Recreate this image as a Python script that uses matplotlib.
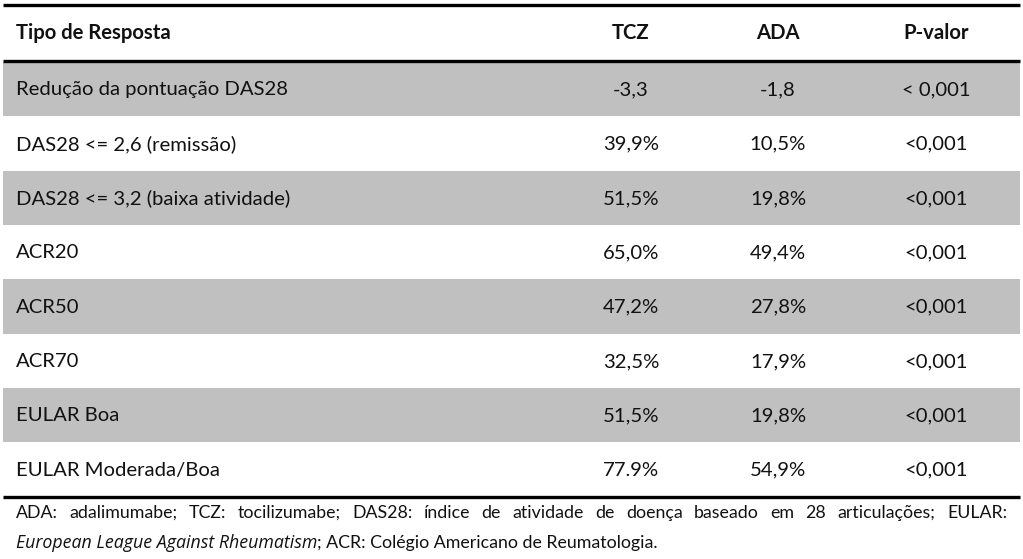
import matplotlib
matplotlib.use("Agg")
import matplotlib.pyplot as plt
from matplotlib.patches import Rectangle

headers = ["Tipo de Resposta", "TCZ", "ADA", "P-valor"]
categories = ["Redução da pontuação DAS28", "DAS28 <= 2,6 (remissão)",
              "DAS28 <= 3,2 (baixa atividade)", "ACR20", "ACR50", "ACR70",
              "EULAR Boa", "EULAR Moderada/Boa"]
tcz = ["-3,3", "39,9%", "51,5%", "65,0%", "47,2%", "32,5%", "51,5%", "77.9%"]
ada = ["-1,8", "10,5%", "19,8%", "49,4%", "27,8%", "17,9%", "19,8%", "54,9%"]
pval = ["< 0,001", "<0,001", "<0,001", "<0,001", "<0,001", "<0,001", "<0,001", "<0,001"]
footer1 = ("ADA: adalimumabe; TCZ: tocilizumabe; DAS28: índice de atividade de doença "
           "baseado em 28 articulações; EULAR:")
footer2_italic = "European League Against Rheumatism"
footer2_rest = "; ACR: Colégio Americano de Reumatologia."

W, H = 1023, 559
FONT = "Lato"
FS = 14.6

fig = plt.figure(figsize=(W / 100, H / 100), dpi=100)
ax = fig.add_axes([0, 0, 1, 1])
ax.set_xlim(0, W)
ax.set_ylim(H, 0)
ax.axis("off")

x_left, x_right = 3, 1020
col_x = [16, 631, 778, 936]
header_y = 33
row_top = 62
row_h = 54.3

# header
ax.text(col_x[0], header_y, headers[0], fontsize=FS, fontweight="bold", family=FONT,
        ha="left", va="center", color="#111111")
for cx, h in zip(col_x[1:], headers[1:]):
    ax.text(cx, header_y, h, fontsize=FS, fontweight="bold", family=FONT,
            ha="center", va="center", color="#111111")

for i, (cat, a, b, p) in enumerate(zip(categories, tcz, ada, pval)):
    y0 = row_top + i * row_h
    if i % 2 == 0:
        ax.add_patch(Rectangle((x_left, y0), x_right - x_left, row_h,
                               facecolor="#C0C0C0", edgecolor="none", zorder=0))
    yc = y0 + row_h / 2 + 0.8
    ax.text(col_x[0], yc, cat, fontsize=FS, family=FONT, ha="left", va="center", color="#111111")
    for cx, v in zip(col_x[1:], [a, b, p]):
        ax.text(cx, yc, v, fontsize=FS, family=FONT, ha="center", va="center", color="#111111")

bottom = row_top + len(categories) * row_h
for yl in [4.5, 61, bottom + 1]:
    ax.plot([x_left, x_right], [yl, yl], color="black", lw=2.4, solid_capstyle="butt", zorder=3)

# footer, first line justified
FFS = 12.8
fig.canvas.draw()
renderer = fig.canvas.get_renderer()
words = footer1.split(" ")
tmp = [ax.text(0, 0, w, fontsize=FFS, family=FONT) for w in words]
widths = []
for t in tmp:
    bb = t.get_window_extent(renderer=renderer)
    widths.append(bb.width)
    t.remove()
fx0, fx1 = 16, 1007
gap = (fx1 - fx0 - sum(widths)) / (len(words) - 1)
x = fx0
for w, wd in zip(words, widths):
    ax.text(x, 513, w, fontsize=FFS, family=FONT, ha="left", va="center", color="#111111")
    x += wd + gap

t_it = ax.text(fx0, 543, footer2_italic, fontsize=FFS, family="Open Sans", style="italic",
               ha="left", va="center", color="#111111")
bb = t_it.get_window_extent(renderer=renderer)
ax.text(fx0 + bb.width, 543, footer2_rest, fontsize=FFS, family=FONT,
        ha="left", va="center", color="#111111")

fig.savefig("out.png", dpi=100, facecolor="white")
